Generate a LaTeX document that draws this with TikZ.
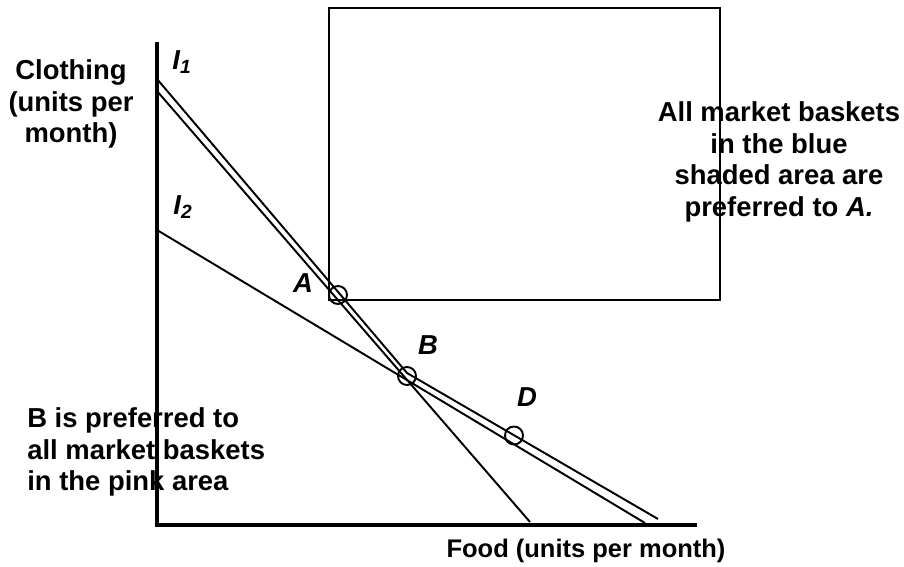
\documentclass[tikz,border=0pt]{standalone}
\usepackage{fontspec}
\setmainfont{Liberation Sans}
\usetikzlibrary{calc}

\begin{document}
\begin{tikzpicture}[
    txt/.style={font=\fontsize{15.6}{17.9}\selectfont\bfseries, inner sep=0pt},
    curve/.style={line width=1.1pt},
    ring/.style={line width=1.1pt}]
    \useasboundingbox (-3.14,-0.82) rectangle (14.94,10.5);

    % Texts
    \node[txt, align=center] (yaxis) at (-1.72,8.42) {Clothing\\(units per\\month)};
    \node[txt, align=center] (blue) at (12.44,7.26) {All market baskets\\in the blue\\shaded area are\\preferred to \textit{A.}};
    \node[txt, align=left, anchor=west] (pink) at (-2.6,1.46) {B is preferred to\\all market baskets\\in the pink area};
    \node[font=\fontsize{14.5}{17}\selectfont\bfseries, inner sep=0pt] (xaxis) at (8.58,-0.52) {Food (units per month)};

    % Box of baskets preferred to A
    \draw[line width=1.1pt] (3.44,4.5) rectangle (11.26,10.34);

    % Axes
    \draw[line width=2.8pt] (0,9.66) -- (0,-0.04);
    \draw[line width=2.8pt] (-0.05,0) -- (10.8,0);

    % Points
    \coordinate (A) at (3.62,4.6);
    \coordinate (B) at (5.0,2.98);
    \coordinate (D) at (7.14,1.79);

    % I1 (two strokes)
    \draw[curve] (0,8.92) -- (5.0,3.04) -- (10.02,0.12);
    \draw[curve] (0,8.68) -- (7.46,0.06);
    \node[txt] (i1) at (0.5,9.26) {\textit{I\textsubscript{1}}};

    % I2
    \draw[curve] (0,5.9) -- (9.76,0.04);
    \node[txt] (i2) at (0.52,6.36) {\textit{I\textsubscript{2}}};

    % Marked baskets
    \draw[ring] (A) circle (0.18);
    \draw[ring] (B) circle (0.18);
    \draw[ring] (D) circle (0.18);
    \node[txt] (la) at (2.92,4.84) {\textit{A}};
    \node[txt] (lb) at (5.42,3.6) {\textit{B}};
    \node[txt] (ld) at (7.4,2.56) {\textit{D}};
\end{tikzpicture}
\end{document}
